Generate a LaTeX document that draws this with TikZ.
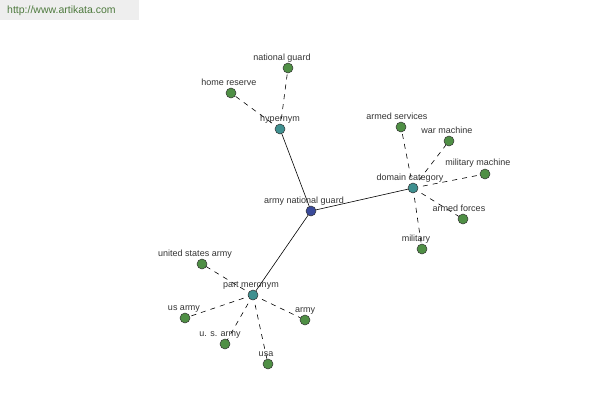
\documentclass[tikz,border=0pt]{standalone}
\usepackage{fontspec}
\setmainfont{Liberation Sans}
\usetikzlibrary{backgrounds}
\definecolor{leafc}{HTML}{4F8F45}
\definecolor{relc}{HTML}{3F9090}
\definecolor{rootc}{HTML}{3A4A9A}
\definecolor{urlc}{HTML}{4E7A3E}
\definecolor{urlbg}{HTML}{EEEEEE}
\definecolor{txtc}{HTML}{333333}
\tikzset{
  dot/.style={circle,draw=black!80,line width=0.5pt,minimum size=10pt,inner sep=0pt},
  leaf/.style={dot,fill=leafc},
  rel/.style={dot,fill=relc},
  root/.style={dot,fill=rootc},
  lbl/.style={font=\fontsize{9}{10}\selectfont,text=txtc,inner sep=0pt,anchor=base},
  solidedge/.style={draw=black,line width=0.6pt},
  dashedge/.style={draw=black,line width=0.6pt,dash pattern=on 5pt off 5pt},
}
\begin{document}
\begin{tikzpicture}[x=1pt,y=-1pt]
\useasboundingbox (0,0) rectangle (600,400);
\fill[urlbg] (0,0) rectangle (139,20);
\node[font=\fontsize{10.5}{12}\selectfont,text=urlc,anchor=west,inner sep=0pt] (url) at (7,11) {http://www.artikata.com};
% nodes
\node[root] (ang) at (311,211) {};
\node[rel] (hyp) at (280,129) {};
\node[rel] (dom) at (413,188) {};
\node[rel] (par) at (253,295) {};
\node[leaf] (ng) at (288,68) {};
\node[leaf] (hr) at (231,93) {};
\node[leaf] (as) at (401,127) {};
\node[leaf] (wm) at (449,141) {};
\node[leaf] (mm) at (485,174) {};
\node[leaf] (af) at (463,219) {};
\node[leaf] (mil) at (422,249) {};
\node[leaf] (usa1) at (202,264) {};
\node[leaf] (usa2) at (185,318) {};
\node[leaf] (usa3) at (225,344) {};
\node[leaf] (usa4) at (268,364) {};
\node[leaf] (arm) at (305,320) {};
% edges
\begin{scope}[on background layer]
\draw[solidedge] (ang.center) -- (hyp.center);
\draw[solidedge] (ang.center) -- (dom.center);
\draw[solidedge] (ang.center) -- (par.center);
\foreach \t in {ng,hr} \draw[dashedge] (hyp.center) -- (\t.center);
\foreach \t in {as,wm,mm,af,mil} \draw[dashedge] (dom.center) -- (\t.center);
\foreach \t in {usa1,usa2,usa3,usa4,arm} \draw[dashedge] (par.center) -- (\t.center);
\end{scope}
% labels
\node[lbl] (lang) at (304,203) {army national guard};
\node[lbl] (lhyp) at (280,121) {hypernym};
\node[lbl] (ldom) at (410,180) {domain category};
\node[lbl] (lpar) at (251,287) {part meronym};
\node[lbl] (lng) at (282,60) {national guard};
\node[lbl] (lhr) at (229,85) {home reserve};
\node[lbl] (las) at (397,119) {armed services};
\node[lbl] (lwm) at (447,133) {war machine};
\node[lbl] (lmm) at (478,165) {military machine};
\node[lbl] (laf) at (459,211) {armed forces};
\node[lbl] (lmil) at (416,241) {military};
\node[lbl] (lusa1) at (195,256) {united states army};
\node[lbl] (lusa2) at (184,310) {us army};
\node[lbl] (lusa3) at (220,336) {u. s. army};
\node[lbl] (lusa4) at (266,356) {usa};
\node[lbl] (larm) at (305,312) {army};
\end{tikzpicture}
\end{document}
